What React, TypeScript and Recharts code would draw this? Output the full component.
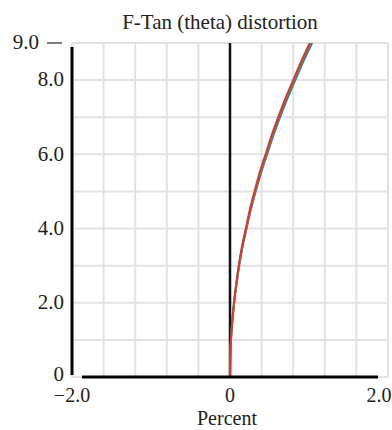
import React from 'react';
import { LineChart, Line, XAxis, YAxis, CartesianGrid, ReferenceLine } from 'recharts';

// distortion values (y) sampled every 0.5
const levels = [0, 0.5, 1, 1.5, 2, 2.5, 3, 3.5, 4, 4.5, 5, 5.5, 6, 6.5, 7, 7.5, 8, 8.5, 9];

// percent (x) for each series
const redPct = [0, 0.003, 0.012, 0.028, 0.05, 0.078, 0.11, 0.15, 0.2, 0.25, 0.31, 0.375, 0.45, 0.525, 0.61, 0.7, 0.8, 0.9, 1.01];
const greenPct = [0, 0.003, 0.012, 0.028, 0.051, 0.08, 0.113, 0.154, 0.205, 0.257, 0.318, 0.385, 0.46, 0.537, 0.622, 0.713, 0.813, 0.914, 1.025];
const bluePct = [0, 0.003, 0.013, 0.03, 0.053, 0.083, 0.117, 0.159, 0.21, 0.263, 0.325, 0.393, 0.47, 0.548, 0.634, 0.726, 0.826, 0.928, 1.04];

const xTicks = [-2, -1.6, -1.2, -0.8, -0.4, 0, 0.4, 0.8, 1.2, 1.6, 2];
const xLabels: Record<string, string> = { '-2': '\u22122.0', '0': '0', '2': '2.0' };
const yTicks = [0, 1, 2, 3, 4, 5, 6, 7, 8, 9];
const yLabels: Record<string, string> = { '0': '0', '2': '2.0', '4': '4.0', '6': '6.0', '8': '8.0', '9': '9.0' };

const FONT = 'Liberation Serif, Times New Roman, serif';

const toRows = (pct: number[]) => pct.map((p, i) => ({ pct: p, val: levels[i] }));

const XTick = ({ x, y, payload }: any) => {
  const label = xLabels[String(payload.value)];
  if (!label) return null;
  // the right-most label is pulled in so it does not run off the page
  const dx = payload.value === 2 ? -9 : 0;
  return (
    <text x={x + dx} y={y + 17} textAnchor="middle" fontSize={20} fontFamily={FONT} fill="#222">
      {label}
    </text>
  );
};

const YTick = ({ x, y, payload }: any) => {
  const label = yLabels[String(payload.value)];
  if (!label) return null;
  if (payload.value === 9) {
    return (
      <g>
        <text x={x - 25} y={y} dy="0.3em" textAnchor="end" fontSize={21} fontFamily={FONT} fill="#222">
          {label}
        </text>
        <line x1={x - 17} x2={x - 2} y1={y} y2={y} stroke="#555" strokeWidth={1.5} />
      </g>
    );
  }
  // bottom label sits a touch above the axis
  const dy = payload.value === 0 ? -2 : 0;
  return (
    <text x={x} y={y + dy} dy="0.3em" textAnchor="end" fontSize={21} fontFamily={FONT} fill="#222">
      {label}
    </text>
  );
};

export default function App() {
  return (
    <div style={{ position: 'absolute', left: 0, top: 0 }}>
      <LineChart width={392} height={430} margin={{ top: 43, right: 4, bottom: 0, left: 0 }}>
        <CartesianGrid stroke="#e2e2e2" strokeWidth={2} />
        <XAxis
          type="number"
          dataKey="pct"
          domain={[-2, 2]}
          ticks={xTicks}
          height={53}
          tickLine={false}
          tick={<XTick />}
          axisLine={{ stroke: '#000', strokeWidth: 3, strokeDasharray: '0 10 296 10' }}
          label={{ value: 'Percent', position: 'insideBottom', offset: 5, dx: -3, fontSize: 20, fontFamily: FONT, fill: '#222' }}
          allowDataOverflow
        />
        <YAxis
          type="number"
          dataKey="val"
          domain={[0, 9]}
          ticks={yTicks}
          width={72}
          tickLine={false}
          tick={<YTick />}
          axisLine={{ stroke: '#000', strokeWidth: 3, strokeDasharray: '0 4 328 2' }}
          allowDataOverflow
        />
        <ReferenceLine x={0} stroke="#111" strokeWidth={2.5} />
        <Line data={toRows(bluePct)} dataKey="val" type="monotone" stroke="#3a6bc4" strokeWidth={2} dot={false} isAnimationActive={false} />
        <Line data={toRows(greenPct)} dataKey="val" type="monotone" stroke="#3f9e4a" strokeWidth={2} dot={false} isAnimationActive={false} />
        <Line data={toRows(redPct)} dataKey="val" type="monotone" stroke="#e0352b" strokeWidth={2} dot={false} isAnimationActive={false} />
        <text x={220} y={29} textAnchor="middle" fontSize={21} fontFamily={FONT} fill="#222">
          F-Tan (theta) distortion
        </text>
      </LineChart>
    </div>
  );
}
